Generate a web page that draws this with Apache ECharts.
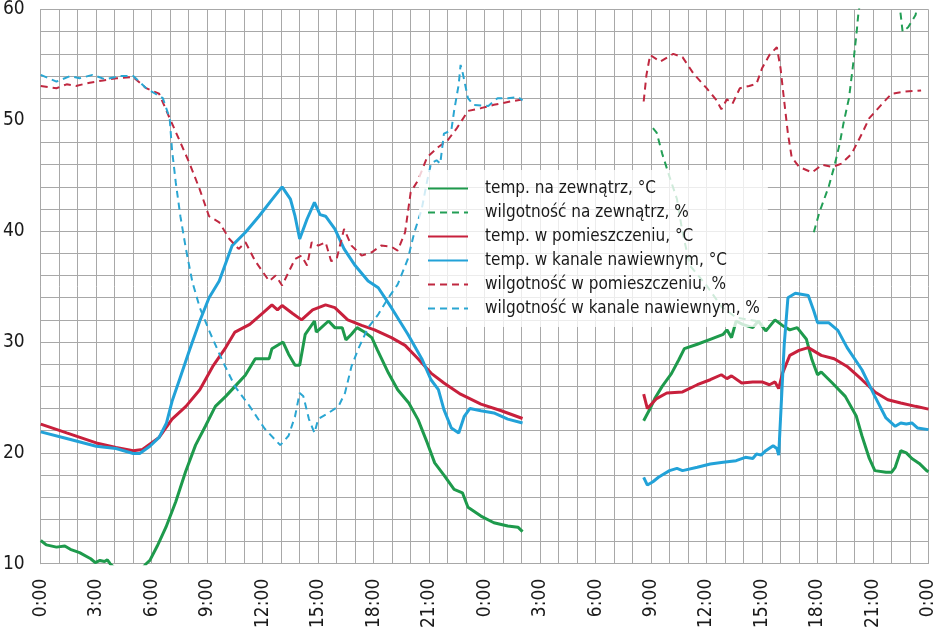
<!DOCTYPE html>
<html>
<head>
<meta charset="utf-8">
<script src="https://cdn.jsdelivr.net/npm/echarts@6/dist/echarts.min.js"></script>
<style>
  html, body { margin: 0; padding: 0; background: #fff; }
  #main { width: 938px; height: 631px; }
</style>
</head>
<body>
<div id="main"></div>
<script>
// hours since midnight of day 1, value
var tempOut = [
  [0,12.1],[0.3,11.7],[0.85,11.5],[1.3,11.6],[1.6,11.3],[2.1,11.0],[2.7,10.45],[2.95,10.1],[3.2,10.3],
  [3.45,10.2],[3.6,10.35],[3.75,10.0],[4.2,9.3],[4.8,9.0],[5.3,9.2],[5.7,10.0],[5.9,10.3],[6.3,11.6],
  [6.77,13.3],[7.3,15.6],[7.83,18.3],[8.37,20.7],[8.9,22.4],[9.44,24.2],[10.0,25.1],[10.5,26.0],
  [11.06,27.0],[11.6,28.5],[12.35,28.5],[12.5,29.4],[13.1,30.0],[13.4,28.9],[13.75,27.9],[14.0,27.9],
  [14.3,30.7],[14.8,31.9],[14.9,30.9],[15.56,31.9],[15.9,31.3],[16.3,31.3],[16.5,30.2],[16.8,30.7],
  [17.1,31.3],[17.5,30.9],[17.9,30.4],[18.2,29.3],[18.8,27.2],[19.3,25.7],[19.9,24.5],[20.4,23.0],
  [20.9,20.9],[21.3,19.1],[21.8,18.0],[22.35,16.7],[22.8,16.4],[23.1,15.1],[23.8,14.3],[24.5,13.7],
  [25.25,13.4],[25.8,13.3],[26.05,12.9],
  [29,null],
  [32.6,22.9],[32.95,24.0],[33.2,24.9],[33.6,26.0],[34.1,27.15],[34.5,28.4],[34.8,29.4],[35.5,29.8],
  [36.2,30.25],[36.9,30.7],[37.1,31.1],[37.35,30.4],[37.6,31.9],[37.95,31.6],[38.5,31.3],[38.8,31.9],
  [39.2,31.0],[39.7,32.0],[40.1,31.5],[40.5,31.1],[40.9,31.3],[41.4,30.25],[41.7,28.4],[42.0,27.05],
  [42.2,27.3],[42.8,26.3],[43.5,25.1],[44.1,23.3],[44.4,21.55],[44.8,19.5],[45.1,18.4],[45.7,18.25],
  [46.0,18.25],[46.2,18.7],[46.5,20.2],[46.8,20.0],[47.1,19.5],[47.5,19.05],[47.9,18.4],[48,18.3]
];

var humOut = [
  [33.1,49.3],[33.3,48.9],[33.6,47.0],[34.0,44.9],[34.4,42.9],[34.7,39.9],[35.1,36.9],[36.0,35.1],
  [36.8,33.2],[37.6,32.2],[38.7,31.9],
  [40,null],
  [41.8,39.9],[42.1,41.7],[42.6,44.0],[42.9,45.8],[43.2,47.9],[43.4,49.7],[43.7,52.0],[43.9,54.7],
  [44.1,57.7],[44.2,59.5],[44.5,63],[45.5,66],[46.3,62],[46.5,59.5],[46.6,58.0],[46.9,58.4],
  [47.3,59.5],[47.6,62],[48,64]
];

var tempIn = [
  [0,22.6],[1.4,21.8],[3.0,20.9],[4.07,20.5],[5.0,20.2],[5.5,20.3],[6.4,21.4],[7.1,23.05],[7.85,24.2],
  [8.6,25.7],[9.3,27.8],[10.0,29.5],[10.5,30.9],[11.3,31.6],[12.0,32.6],[12.5,33.35],[12.8,32.9],
  [13.05,33.3],[13.6,32.6],[14.1,32.0],[14.7,32.9],[15.4,33.35],[15.9,33.1],[16.6,32.0],[17.35,31.5],
  [18.05,31.1],[18.96,30.4],[19.7,29.7],[20.4,28.5],[21.1,27.2],[21.8,26.3],[22.7,25.3],[23.8,24.4],
  [24.9,23.8],[26.05,23.1],
  [29,null],
  [32.6,25.3],[32.8,24.0],[33.3,24.9],[33.85,25.4],[34.7,25.5],[35.5,26.15],[36.2,26.6],[36.8,27.05],
  [37.1,26.7],[37.35,26.95],[37.9,26.3],[38.5,26.4],[39.0,26.4],[39.4,26.15],[39.7,26.4],[39.9,25.8],
  [40.1,27.15],[40.5,28.8],[41.0,29.25],[41.5,29.5],[42.2,28.8],[42.9,28.5],[43.6,27.8],[44.4,26.6],
  [45.1,25.5],[45.8,24.8],[46.5,24.5],[47.3,24.2],[48,23.95]
];

var tempDuct = [
  [0,21.9],[1.4,21.3],[3.0,20.6],[4.07,20.4],[5.0,19.95],[5.35,19.95],[5.9,20.6],[6.4,21.4],[6.8,22.7],
  [7.1,24.65],[7.5,26.6],[8.05,29.3],[8.6,31.9],[9.1,34.0],[9.65,35.5],[10.35,38.7],[11.07,39.9],
  [11.8,41.35],[12.5,42.85],[13.05,44.0],[13.5,42.9],[13.75,41.35],[14.0,39.3],[14.4,41.1],[14.8,42.6],
  [15.1,41.5],[15.4,41.35],[15.9,40.2],[16.4,38.4],[17.0,36.9],[17.7,35.5],[18.25,34.9],[18.96,33.1],
  [19.85,30.7],[20.6,28.5],[21.1,26.6],[21.5,25.7],[21.8,23.9],[22.2,22.25],[22.6,21.8],[22.9,23.3],
  [23.2,24.0],[23.8,23.8],[24.5,23.6],[25.25,23.05],[26.05,22.7],
  [29,null],
  [32.6,17.8],[32.8,17.1],[33.1,17.4],[33.4,17.8],[33.6,18.0],[34.0,18.4],[34.4,18.6],[34.7,18.4],
  [35.5,18.7],[36.2,19.0],[36.9,19.15],[37.6,19.3],[38.1,19.6],[38.5,19.5],[38.7,19.9],[38.95,19.8],
  [39.2,20.2],[39.6,20.65],[39.8,20.4],[39.9,19.8],[40.2,29.8],[40.4,34.0],[40.8,34.4],[41.5,34.2],
  [41.8,32.8],[42.0,31.75],[42.6,31.75],[43.1,31.05],[43.6,29.5],[44.4,27.5],[45.1,25.1],[45.7,23.15],
  [46.2,22.4],[46.5,22.7],[46.8,22.6],[47.1,22.7],[47.4,22.25],[48,22.1]
];

var humIn = [
  [0,53.1],[0.85,52.9],[1.4,53.25],[1.9,53.1],[2.65,53.4],[3.37,53.6],[4.1,53.8],[5.0,53.9],[5.7,52.9],
  [6.4,52.4],[6.97,50.2],[7.5,48.2],[8.05,46.1],[8.6,43.75],[9.1,41.35],[9.65,40.8],[10.2,39.3],
  [10.7,38.4],[11.07,39.0],[11.6,37.3],[12.35,35.5],[12.7,36.0],[13.05,35.1],[13.75,37.5],[14.1,37.8],
  [14.4,36.9],[14.65,39.0],[15.0,38.7],[15.4,39.0],[15.7,37.3],[16.0,37.5],[16.4,40.2],[16.8,38.7],
  [17.35,37.8],[17.9,38.1],[18.4,38.7],[18.96,38.6],[19.3,38.25],[19.7,39.9],[20.0,43.5],[20.4,44.6],
  [20.9,46.7],[21.5,47.6],[22.0,48.2],[22.5,49.3],[23.1,50.85],[23.8,51.1],[24.5,51.4],[25.4,51.7],
  [26.05,51.9],
  [29,null],
  [32.6,51.7],[32.75,54.1],[32.95,55.9],[33.5,55.3],[34.2,56.0],[34.7,55.7],[35.3,54.2],[36.0,52.9],
  [36.5,51.9],[36.8,51.0],[37.1,51.9],[37.4,51.5],[37.8,52.9],[38.3,53.1],[38.7,53.3],[39.0,54.7],
  [39.4,55.9],[39.8,56.6],[40.0,54.7],[40.2,51.7],[40.4,48.8],[40.6,46.7],[41.0,45.8],[41.7,45.3],
  [42.25,46.0],[42.8,45.8],[43.3,46.1],[43.85,47.0],[44.4,48.8],[44.8,50.2],[45.5,51.5],[46.0,52.4],
  [46.75,52.6],[47.6,52.7]
];

var humDuct = [
  [0,54.1],[0.85,53.5],[1.6,54.0],[2.1,53.8],[2.8,54.1],[3.5,53.7],[4.3,54.0],[5.0,54.0],[5.7,52.9],
  [6.2,52.4],[6.6,52.0],[6.97,50.2],[7.1,47.3],[7.3,44.4],[7.55,41.35],[7.85,38.4],[8.2,35.4],
  [8.6,33.1],[9.1,31.05],[9.8,28.4],[10.5,26.0],[11.3,24.2],[12.1,22.2],[12.95,20.7],[13.4,21.55],
  [13.75,23.3],[14.0,25.4],[14.2,25.1],[14.5,23.05],[14.8,21.8],[15.0,23.05],[15.55,23.6],[16.1,24.2],
  [16.45,25.4],[16.8,27.8],[17.2,29.5],[17.7,31.3],[18.25,32.5],[18.8,34.0],[19.3,35.2],[19.85,37.5],
  [20.2,39.9],[20.6,42.0],[20.9,44.6],[21.1,46.1],[21.4,46.4],[21.6,46.1],[21.8,48.8],[22.2,49.1],
  [22.35,50.85],[22.6,53.25],[22.7,55.0],[22.8,54.4],[23.1,52.0],[23.4,51.4],[24.2,51.3],[24.7,52.0],
  [25.25,52.0],[25.8,52.1],[26.05,51.8]
];

var seriesNames = [
  'temp. na zewnątrz, °C',
  'wilgotność na zewnątrz, %',
  'temp. w pomieszczeniu, °C',
  'temp. w kanale nawiewnym, °C',
  'wilgotność w pomieszczeniu, %',
  'wilgotność w kanale nawiewnym, %'
];

var green = '#1e9a4c', red = '#c8203c', blue = '#22a2d8';
var font = '"Liberation Sans Narrow", "DejaVu Sans Condensed", "Arial Narrow", sans-serif';

function line(name, data, color, dashed) {
  return {
    name: name,
    type: 'line',
    data: data,
    symbol: 'none',
    smooth: false,
    connectNulls: false,
    clip: true,
    lineStyle: {
      color: color,
      width: dashed ? 2 : 3,
      type: dashed ? [7, 5] : 'solid'
    },
    itemStyle: { color: color }
  };
}

var myChart = echarts.init(document.getElementById('main'));

var option = {
  backgroundColor: '#fff',
  animation: false,
  grid: { left: 37, right: 8, top: 7, bottom: 61 },
  legend: {
    orient: 'vertical',
    left: 419,
    top: 170,
    padding: [10, 8, 10, 8],
    backgroundColor: 'rgba(255,255,255,0.78)',
    itemWidth: 40,
    itemHeight: 14,
    itemGap: 7,
    itemStyle: { opacity: 0 },
    data: seriesNames,
    textStyle: {
      fontFamily: font,
      fontSize: 17,
      color: '#1a1a1a',
      padding: [0, 0, 0, 12]
    }
  },
  xAxis: {
    type: 'value',
    min: 0,
    max: 48,
    interval: 1,
    axisLine: { show: true, lineStyle: { color: '#a8a8a8', width: 1 } },
    axisTick: { show: false },
    splitLine: { show: true, lineStyle: { color: '#a8a8a8', width: 1 } },
    axisLabel: {
      rotate: 90,
      margin: 15,
      fontFamily: font,
      fontSize: 19,
      color: '#1a1a1a',
      formatter: function (v) {
        return v % 3 === 0 ? (v % 24) + ':00' : '';
      }
    }
  },
  yAxis: {
    type: 'value',
    min: 10,
    max: 60,
    interval: 2,
    axisLine: { show: true, lineStyle: { color: '#a8a8a8', width: 1 } },
    axisTick: { show: false },
    splitLine: { show: true, lineStyle: { color: '#a8a8a8', width: 1 } },
    axisLabel: {
      margin: 16,
      fontFamily: font,
      fontSize: 19,
      color: '#1a1a1a',
      formatter: function (v) {
        return v % 10 === 0 ? String(v) : '';
      }
    }
  },
  series: [
    line(seriesNames[0], tempOut, green, false),
    line(seriesNames[1], humOut, '#229e55', true),
    line(seriesNames[2], tempIn, red, false),
    line(seriesNames[3], tempDuct, blue, false),
    line(seriesNames[4], humIn, '#c02840', true),
    line(seriesNames[5], humDuct, '#2aa6d2', true)
  ]
};

myChart.setOption(option);
</script>
</body>
</html>
